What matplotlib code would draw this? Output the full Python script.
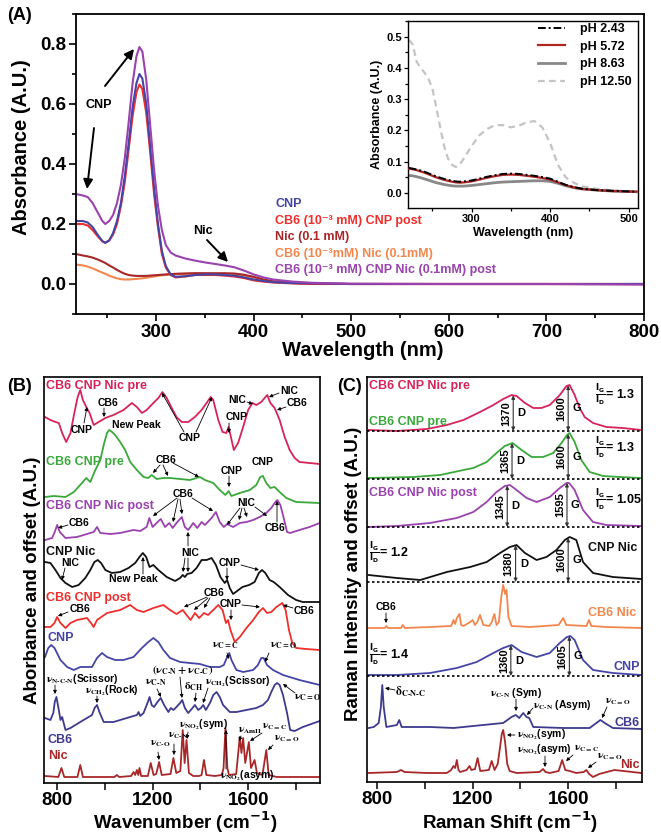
import numpy as np
import matplotlib
matplotlib.use('Agg')
import matplotlib.pyplot as plt
from matplotlib.patches import FancyArrowPatch
from matplotlib.ticker import MultipleLocator, FixedLocator, NullLocator

plt.rcParams['font.family'] = ['Liberation Sans', 'DejaVu Sans']
plt.rcParams['font.weight'] = 'bold'
plt.rcParams['axes.labelweight'] = 'bold'
plt.rcParams['mathtext.default'] = 'bf'

# ---------------- DATA ----------------
# Panel A: UV-vis absorbance
wl_A = [218, 225, 230, 235, 240, 245, 248, 252, 256, 260, 264, 268, 272, 276, 280, 283, 286, 290, 294, 298,
        302, 306, 310, 315, 320, 330, 340, 350, 360, 370, 380, 390, 400, 410, 420, 440, 460, 500, 600, 700, 800]
abs_cnp = [.21, .21, .205, .19, .165, .143, .137, .145, .17, .21, .27, .36, .47, .59, .67, .70, .685, .60, .46, .32,
           .20, .11, .06, .032, .024, .026, .03, .032, .032, .03, .028, .022, .015, .01, .006, .003, .002, 0, 0, 0, 0]
abs_cb6_cnp = [.20, .20, .195, .18, .16, .142, .138, .145, .165, .20, .26, .34, .45, .56, .64, .665, .65, .57, .44, .30,
               .19, .10, .055, .03, .022, .025, .03, .03, .03, .028, .025, .02, .012, .008, .005, .002, 0, 0, 0, 0, 0]
abs_nic = [.10, .095, .092, .088, .082, .075, .07, .062, .055, .047, .04, .034, .03, .028, .027, .027, .027, .027, .028, .029,
           .03, .031, .032, .033, .034, .035, .036, .036, .036, .036, .035, .031, .024, .015, .009, .004, .002, 0, 0, 0, 0]
abs_cb6_nic = [.065, .062, .058, .052, .045, .038, .034, .028, .023, .019, .016, .015, .015, .016, .017, .018, .019, .021, .023, .025,
               .027, .029, .03, .032, .033, .034, .035, .034, .033, .032, .031, .028, .022, .014, .008, .003, .001, 0, 0, 0, 0]
abs_cb6_cnp_nic = [.30, .295, .29, .27, .24, .21, .20, .21, .23, .27, .33, .42, .54, .67, .76, .79, .775, .68, .53, .38,
                   .26, .18, .13, .105, .095, .085, .078, .072, .067, .062, .056, .045, .032, .022, .015, .008, .004, .001, 0, 0, -0.002]
labels_A = ['CNP', 'CB6 (10\u207b\u00b3 mM) CNP post', 'Nic (0.1 mM)', 'CB6 (10\u207b\u00b3mM) Nic (0.1mM)',
            'CB6 (10\u207b\u00b3 mM) CNP Nic (0.1mM) post']

# Inset: pH series
wl_in = [220, 225, 230, 235, 240, 245, 250, 255, 260, 265, 270, 275, 280, 285, 290, 300, 310, 320, 330, 340,
         350, 360, 370, 380, 390, 400, 410, 420, 430, 440, 460, 480, 510]
ph_243 = [.08, .078, .075, .072, .068, .063, .058, .053, .049, .045, .042, .039, .037, .036, .037, .04, .046, .052, .057, .061,
          .062, .061, .058, .055, .051, .046, .036, .026, .019, .014, .009, .007, .004]
ph_572 = [.078, .076, .073, .069, .065, .06, .055, .05, .046, .042, .039, .036, .034, .033, .034, .037, .043, .049, .054, .058,
          .059, .058, .055, .052, .048, .043, .034, .025, .018, .013, .009, .006, .004]
ph_863 = [.056, .055, .052, .049, .045, .041, .037, .033, .03, .027, .025, .023, .022, .022, .022, .024, .027, .03, .033, .035,
          .036, .037, .038, .039, .039, .037, .031, .023, .017, .013, .009, .006, .004]
ph_1250 = [.49, .475, .42, .40, .385, .365, .335, .275, .21, .15, .11, .09, .083, .092, .11, .15, .185, .205, .217, .217,
           .21, .215, .226, .23, .21, .16, .09, .05, .033, .022, .013, .008, .004]
labels_ph = ['pH 2.43', 'pH 5.72', 'pH 8.63', 'pH 12.50']

# Panel B: FTIR (absorbance + offset, A.U.)
b_pre_wn = [749, 772, 793, 807, 821, 838, 856, 872, 886, 897, 908, 922, 936, 953, 974, 1002, 1036, 1078, 1113, 1134,
            1155, 1175, 1203, 1224, 1241, 1259, 1280, 1300, 1322, 1349, 1377, 1405, 1426, 1443, 1454, 1475, 1493, 1509, 1518, 1526,
            1540, 1558, 1579, 1600, 1618, 1634, 1655, 1669, 1680, 1693, 1711, 1732, 1753, 1774, 1795, 1815, 1857, 1900]
b_pre_y = [366, 363, 361, 360, 350, 341, 350, 370, 386, 393, 383, 376, 370, 358, 361, 365, 368, 373, 380, 376,
           370, 373, 380, 385, 391, 385, 375, 366, 361, 361, 366, 373, 380, 386, 383, 363, 351, 350, 356, 348,
           333, 340, 356, 373, 380, 378, 381, 385, 388, 380, 375, 363, 346, 333, 325, 321, 320, 319]
b_cb6cnppre_wn = [749, 786, 835, 870, 904, 922, 939, 960, 981, 997, 1009, 1018, 1030, 1043, 1064, 1085, 1106, 1134, 1162, 1182,
                  1196, 1217, 1245, 1273, 1315, 1356, 1384, 1398, 1419, 1454, 1481, 1505, 1518, 1530, 1565, 1607, 1634, 1651, 1662, 1676,
                  1693, 1711, 1732, 1760, 1801, 1900]
b_cb6cnppre_y = [286, 287, 286, 291, 300, 305, 301, 313, 323, 340, 350, 353, 351, 348, 341, 333, 321, 313, 306, 305,
                 308, 304, 305, 305, 304, 303, 305, 306, 303, 300, 293, 288, 292, 287, 290, 293, 298, 306, 307, 300,
                 295, 296, 291, 285, 281, 280]
b_post_wn = [749, 779, 790, 800, 811, 835, 883, 925, 953, 967, 981, 1023, 1064, 1120, 1148, 1175, 1186, 1200, 1217, 1234,
             1252, 1270, 1284, 1300, 1322, 1335, 1349, 1370, 1387, 1405, 1419, 1447, 1465, 1481, 1498, 1512, 1537, 1565, 1593, 1621,
             1648, 1676, 1697, 1711, 1722, 1735, 1749, 1763, 1776, 1815, 1857, 1900]
b_post_y = [243, 245, 251, 258, 251, 245, 246, 249, 251, 256, 250, 249, 250, 253, 252, 256, 265, 256, 260, 264,
            256, 260, 255, 260, 266, 256, 253, 260, 255, 261, 258, 265, 271, 261, 256, 259, 256, 260, 261, 263,
            266, 270, 275, 280, 283, 278, 265, 251, 250, 253, 256, 260]
b_cnpnic_wn = [749, 772, 793, 814, 835, 863, 890, 918, 939, 956, 970, 984, 1002, 1029, 1064, 1099, 1127, 1145, 1159, 1173,
               1187, 1203, 1224, 1259, 1294, 1315, 1326, 1335, 1345, 1363, 1384, 1405, 1426, 1447, 1465, 1484, 1502, 1512, 1523, 1537,
               1554, 1576, 1604, 1627, 1645, 1658, 1672, 1690, 1707, 1732, 1767, 1801, 1829, 1900]
b_cnpnic_y = [221, 220, 213, 205, 200, 196, 198, 205, 213, 221, 223, 220, 213, 210, 211, 215, 220, 226, 230, 226,
              216, 218, 213, 206, 202, 205, 208, 206, 209, 210, 215, 223, 223, 225, 218, 206, 200, 203, 195, 189,
              192, 196, 198, 201, 210, 213, 210, 203, 201, 196, 188, 183, 181, 181]
b_cb6cnp_wn = [749, 772, 789, 800, 814, 835, 856, 883, 925, 942, 953, 967, 1009, 1064, 1106, 1134, 1162, 1203, 1245, 1273,
               1300, 1326, 1342, 1359, 1377, 1395, 1415, 1432, 1454, 1475, 1493, 1507, 1516, 1526, 1544, 1565, 1593, 1621, 1645, 1662,
               1679, 1697, 1718, 1743, 1757, 1771, 1785, 1801, 1843, 1900]
b_cb6cnp_y = [156, 156, 160, 166, 160, 155, 160, 163, 165, 160, 156, 163, 170, 173, 178, 173, 171, 175, 178, 173,
              169, 173, 168, 163, 170, 165, 170, 168, 173, 178, 173, 160, 163, 153, 141, 146, 155, 163, 171, 175,
              170, 171, 176, 180, 173, 153, 140, 135, 134, 133]
b_cnp_wn = [749, 763, 775, 789, 814, 842, 870, 897, 925, 946, 967, 988, 1009, 1043, 1078, 1120, 1155, 1182, 1203, 1224,
            1245, 1273, 1315, 1356, 1398, 1440, 1481, 1498, 1512, 1521, 1530, 1551, 1579, 1621, 1641, 1655, 1665, 1679, 1704, 1746,
            1815, 1900]
b_cnp_y = [126, 135, 138, 135, 123, 116, 113, 116, 116, 116, 125, 130, 126, 123, 123, 126, 135, 141, 145, 141,
           133, 125, 121, 120, 119, 116, 116, 118, 126, 130, 123, 113, 111, 113, 118, 125, 125, 118, 113, 108,
           103, 98]
b_cb6_wn = [749, 772, 784, 790, 797, 807, 814, 821, 835, 856, 890, 925, 946, 957, 967, 977, 995, 1036, 1092, 1134,
            1141, 1148, 1162, 1180, 1187, 1196, 1206, 1220, 1234, 1248, 1266, 1276, 1287, 1300, 1315, 1324, 1335, 1349, 1367, 1377,
            1391, 1402, 1412, 1423, 1440, 1454, 1468, 1481, 1495, 1523, 1551, 1593, 1634, 1662, 1683, 1697, 1711, 1721, 1732, 1746,
            1763, 1776, 1795, 1829, 1900]
b_cb6_y = [65, 63, 70, 81, 86, 73, 63, 66, 53, 55, 60, 65, 68, 75, 78, 71, 61, 61, 65, 68,
           71, 67, 70, 81, 86, 78, 76, 81, 85, 78, 71, 75, 73, 76, 80, 83, 75, 70, 75, 78,
           73, 75, 78, 73, 80, 88, 91, 86, 78, 71, 71, 73, 75, 78, 83, 91, 98, 100, 98, 88,
           70, 53, 52, 56, 62]
b_nic_wn = [749, 805, 818, 830, 885, 897, 908, 1040, 1050, 1060, 1110, 1120, 1127, 1134, 1140, 1145, 1152, 1180, 1192, 1204,
            1215, 1227, 1238, 1275, 1287, 1299, 1316, 1326, 1334, 1342, 1352, 1370, 1395, 1405, 1415, 1425, 1460, 1490, 1497, 1505,
            1513, 1520, 1550, 1565, 1572, 1579, 1588, 1603, 1612, 1627, 1637, 1660, 1676, 1686, 1720, 1800, 1900]
b_nic_y = [7, 6, 15, 6, 6, 18, 6, 6, 8, 6, 7, 11, 8, 13, 8, 15, 7, 7, 20, 8,
           9, 21, 8, 9, 25, 10, 12, 53, 20, 43, 10, 7, 7, 8, 23, 8, 7, 8, 15, 55,
           15, 8, 9, 46, 30, 45, 20, 41, 15, 23, 10, 8, 33, 8, 6, 6, 6]
b_names = ['CB6 CNP Nic pre', 'CB6 CNP pre', 'CB6 CNP Nic post', 'CNP Nic', 'CB6 CNP post', 'CNP', 'CB6', 'Nic']

# Panel C: Raman (intensity + offset, A.U.)
c_pre_wn = [765, 883, 1009, 1092, 1162, 1231, 1287, 1328, 1363, 1384, 1419, 1454, 1488, 1523, 1565, 1593, 1606, 1627, 1648, 1669,
            1704, 1760, 1829, 1906]
c_pre_y = [352, 351, 353, 357, 362, 370, 377, 383, 387, 386, 379, 374, 374, 377, 387, 396, 397, 387, 374, 365,
           359, 355, 354, 352]
c_cb6cnppre_wn = [765, 953, 1064, 1162, 1203, 1259, 1300, 1335, 1367, 1405, 1447, 1495, 1537, 1572, 1595, 1606, 1627, 1655, 1690, 1746,
                  1815, 1906]
c_cb6cnppre_y = [304, 305, 307, 312, 314, 320, 329, 336, 339, 332, 325, 325, 329, 339, 347, 349, 340, 322, 310, 306,
                 305, 304]
c_post_wn = [765, 883, 1022, 1134, 1203, 1259, 1300, 1335, 1356, 1384, 1426, 1468, 1523, 1565, 1593, 1604, 1627, 1662, 1704, 1760, 1906]
c_post_y = [255, 256, 259, 264, 270, 280, 290, 296, 297, 292, 284, 280, 285, 294, 299, 299, 292, 272, 260, 257, 256]
c_cnpnic_wn = [765, 883, 981, 1092, 1190, 1259, 1315, 1356, 1384, 1419, 1468, 1509, 1551, 1586, 1606, 1634, 1662, 1704, 1787, 1906]
c_cnpnic_y = [207, 204, 202, 210, 215, 220, 229, 235, 237, 229, 222, 225, 232, 242, 245, 242, 220, 209, 205, 203]
c_cb6nic_wn = [765, 832, 839, 846, 900, 908, 916, 1022, 1110, 1120, 1127, 1134, 1145, 1152, 1162, 1190, 1200, 1210, 1220, 1231,
               1245, 1270, 1280, 1291, 1300, 1310, 1320, 1328, 1336, 1342, 1350, 1363, 1440, 1560, 1579, 1592, 1676, 1687, 1697, 1760,
               1906]
c_cb6nic_y = [154, 154, 156, 154, 154, 157, 154, 155, 156, 162, 158, 164, 168, 157, 156, 160, 162, 157, 160, 167,
              157, 156, 160, 168, 157, 160, 185, 197, 188, 192, 165, 156, 155, 157, 164, 157, 156, 162, 156, 155,
              154]
c_cnp_wn = [765, 883, 1022, 1134, 1217, 1287, 1328, 1363, 1405, 1468, 1523, 1565, 1595, 1609, 1627, 1662, 1704, 1787, 1906]
c_cnp_y = [107, 107, 109, 114, 120, 129, 134, 137, 130, 125, 129, 139, 145, 146, 142, 122, 112, 109, 107]
c_cb6_wn = [765, 786, 807, 816, 822, 828, 839, 883, 893, 903, 1022, 1120, 1203, 1328, 1363, 1381, 1395, 1412, 1426, 1437,
            1454, 1579, 1690, 1718, 1735, 1753, 1787, 1906]
c_cb6_y = [54, 55, 59, 75, 97, 75, 55, 57, 62, 55, 55, 54, 56, 59, 65, 67, 64, 69, 65, 64,
           55, 54, 54, 59, 62, 59, 54, 53]
c_nic_wn = [765, 883, 900, 915, 1009, 1092, 1110, 1120, 1127, 1134, 1141, 1148, 1175, 1187, 1195, 1210, 1221, 1232, 1268, 1280,
            1292, 1305, 1315, 1322, 1328, 1336, 1345, 1355, 1384, 1480, 1495, 1505, 1523, 1560, 1575, 1588, 1606, 1634, 1665, 1676,
            1688, 1704, 1730, 1794, 1906]
c_nic_y = [9, 10, 12, 10, 9, 9, 12, 16, 14, 22, 12, 10, 12, 16, 12, 13, 24, 11, 12, 21,
           12, 18, 35, 48, 52, 40, 18, 11, 9, 10, 13, 10, 9, 11, 22, 12, 11, 9, 10, 12,
           8, 5, 8, 12, 9]
c_baselines = [351, 303, 255, 200, 106]
c_D_pos = [1370, 1365, 1345, 1380, 1360]
c_G_pos = [1600, 1600, 1595, 1600, 1605]
c_ratio = ['1.3', '1.3', '1.05', '1.2', '1.4']

# ---------------- STYLE ----------------
col_crimson = '#d6245a'
col_green = '#3aa83a'
col_purple = '#9a42ae'
col_black = '#111111'
col_red = '#ee2f2c'
col_blue = '#4545a6'
col_navy = '#3e3a8e'
col_darkred = '#a8282a'
col_orange = '#f2874e'

W, H = 661, 840
fig = plt.figure(figsize=(W / 100, H / 100), dpi=100)


def F(x, y):
    return (x / W, 1 - y / H)


def ax_at(l, t, r, b):
    return fig.add_axes([l / W, 1 - b / H, (r - l) / W, (b - t) / H])


def T(x, y, s, size=7.5, color='k', ha='center', va='center', **kw):
    fig.text(x / W, 1 - y / H, s, fontsize=size, color=color, ha=ha, va=va, fontweight='bold', **kw)


def ARR(x0, y0, x1, y1, lw=0.6, ms=5, color='k'):
    fig.add_artist(FancyArrowPatch(F(x0, y0), F(x1, y1), transform=fig.transFigure, arrowstyle='-|>',
                                   mutation_scale=ms, lw=lw, color=color, shrinkA=0, shrinkB=0))


def NU(x, y, s, size=8, ha='left', va='center'):
    fig.text(x / W, 1 - y / H, s, fontsize=size, color='k', ha=ha, va=va, fontweight='bold', math_fontfamily='stix')


# ---------------- PANEL A ----------------
axA = ax_at(76, 14, 644, 314)
cols_A = [col_blue, col_red, col_darkred, col_orange, col_purple]
order = [3, 2, 1, 0, 4]
series_A = [abs_cnp, abs_cb6_cnp, abs_nic, abs_cb6_nic, abs_cb6_cnp_nic]
for i in order:
    axA.plot(wl_A, series_A[i], color=cols_A[i], lw=1.5)
axA.set_xlim(218, 800)
axA.set_ylim(-0.1, 0.9)
axA.xaxis.set_major_locator(MultipleLocator(100))
axA.xaxis.set_minor_locator(MultipleLocator(50))
axA.yaxis.set_major_locator(MultipleLocator(0.2))
axA.yaxis.set_minor_locator(MultipleLocator(0.1))
axA.tick_params(which='both', direction='out', width=1.2, labelsize=13.5, pad=2)
axA.tick_params(which='major', length=5)
axA.tick_params(which='minor', length=3)
for s in axA.spines.values():
    s.set_linewidth(1.3)
T(22, 147, 'Absorbance (A.U.)', size=14.5, rotation=90)
T(363, 350, 'Wavelength (nm)', size=14.5)
T(20, 15, '(A)', size=13)
for i, lab in enumerate(labels_A):
    T(275, 204 + i * 16.6, lab, size=9, color=cols_A[i], ha='left')
T(99, 105, 'CNP', size=9)
T(203, 231, 'Nic', size=9)
ARR(94, 128, 87, 189, lw=1.4, ms=14)
ARR(105, 86, 134, 49, lw=1.4, ms=14)
ARR(207, 240, 228, 262, lw=1.4, ms=14)

# Inset
axI = ax_at(408, 21, 638, 208)
axI.plot(wl_in, ph_243, color='k', lw=1.4, ls=(0, (4, 1.5, 1, 1.5)), label=labels_ph[0], zorder=4)
axI.plot(wl_in, ph_572, color='#b02424', lw=1.6, label=labels_ph[1], zorder=3)
axI.plot(wl_in, ph_863, color='#888888', lw=2.0, label=labels_ph[2], zorder=2)
axI.plot(wl_in, ph_1250, color='#c4c4c4', lw=1.6, ls=(0, (3, 2)), label=labels_ph[3], zorder=1)
axI.set_xlim(219, 512)
axI.set_ylim(-0.048, 0.55)
axI.xaxis.set_major_locator(MultipleLocator(100))
axI.xaxis.set_minor_locator(MultipleLocator(50))
axI.yaxis.set_major_locator(MultipleLocator(0.1))
axI.yaxis.set_minor_locator(MultipleLocator(0.05))
axI.tick_params(which='both', direction='out', width=0.9, labelsize=8, pad=1.5)
axI.tick_params(which='major', length=3)
axI.tick_params(which='minor', length=2)
for s in axI.spines.values():
    s.set_linewidth(1.0)
axI.set_ylabel('Absorbance (A.U.)', fontsize=9, labelpad=2)
axI.set_xlabel('Wavelength (nm)', fontsize=9, labelpad=2)
leg = axI.legend(loc='upper right', bbox_to_anchor=(632 / W, 1 - 23 / H), bbox_transform=fig.transFigure,
                 frameon=False, fontsize=9, handlelength=2.2, handletextpad=1.2, labelspacing=0.45,
                 borderaxespad=0, borderpad=0)
for t in leg.get_texts():
    t.set_fontweight('bold')

# ---------------- PANEL B ----------------
axB = ax_at(44, 377, 320, 783)
curves_B = [(b_pre_wn, b_pre_y, col_crimson), (b_cb6cnppre_wn, b_cb6cnppre_y, col_green),
            (b_post_wn, b_post_y, col_purple), (b_cnpnic_wn, b_cnpnic_y, col_black),
            (b_cb6cnp_wn, b_cb6cnp_y, col_red), (b_cnp_wn, b_cnp_y, col_blue),
            (b_cb6_wn, b_cb6_y, col_navy), (b_nic_wn, b_nic_y, col_darkred)]
for wn, yy, c in curves_B:
    axB.plot(wn, yy, color=c, lw=1.3)
axB.set_xlim(745, 1901)
axB.set_ylim(0, 406)
axB.xaxis.set_major_locator(FixedLocator([800, 1200, 1600]))
axB.xaxis.set_minor_locator(FixedLocator([1000, 1400, 1800]))
axB.yaxis.set_major_locator(NullLocator())
axB.tick_params(which='both', direction='out', width=1.1, labelsize=13.5, pad=1.5)
axB.tick_params(which='major', length=5)
axB.tick_params(which='minor', length=5)
for s in axB.spines.values():
    s.set_linewidth(1.2)
T(19, 387, '(B)', size=13)
T(33, 580, 'Aborbance and offset (A.U.)', size=13.5, rotation=90)
T(185, 822, 'Wavenumber (cm$^{-1}$)', size=13.5)
b_label_pos = [(46, 386), (46, 462), (46, 506), (46, 552), (46, 598), (48, 638), (47, 740), (48, 756)]
for (x, y), name, (_, _, c) in zip(b_label_pos, b_names, curves_B):
    T(x, y, name, size=9, color=c, ha='left')

# annotations, panel B
T(82, 430, 'CNP'); ARR(84, 423, 87, 407)
T(108, 403, 'CB6'); ARR(104, 408, 104, 417)
T(136, 425, 'New Peak')
T(190, 438, 'CNP'); ARR(184, 432, 162, 393); ARR(196, 432, 212, 397)
T(237, 417, 'CNP'); ARR(229, 423, 229, 433)
T(237, 400, 'NIC'); ARR(247, 402, 253, 404)
T(289, 391, 'NIC'); ARR(279, 393, 269, 397)
T(297, 403, 'CB6'); ARR(286, 407, 277, 410)
T(166, 460, 'CB6'); ARR(160, 465, 153, 473); ARR(163, 465, 168, 476); ARR(173, 463, 199, 477)
T(232, 471, 'CNP'); ARR(229, 476, 229, 487)
T(263, 462, 'CNP')
T(183, 494, 'CB6'); ARR(177, 498, 153, 516); ARR(178, 499, 173, 522); ARR(180, 499, 182, 514); ARR(192, 498, 213, 511)
T(246, 503, 'NIC'); ARR(240, 508, 227, 525); ARR(242, 508, 239, 520); ARR(244, 508, 247, 517); ARR(255, 507, 267, 516)
T(79, 523, 'CB6'); ARR(68, 525, 58, 528)
T(275, 528, 'CB6'); ARR(277, 522, 277, 501)
T(70, 563, 'NIC'); ARR(65, 568, 62, 580)
T(190, 553, 'NIC'); ARR(185, 558, 183, 572); ARR(188, 558, 188, 572); ARR(188, 546, 188, 532)
T(133, 579, 'New Peak'); ARR(143, 574, 143, 557)
T(230, 563, 'CNP'); ARR(227, 568, 227, 580); ARR(241, 565, 259, 570)
T(214, 593, 'CB6'); ARR(207, 597, 184, 607); ARR(208, 598, 194, 610); ARR(210, 598, 204, 608)
T(231, 604, 'CNP'); ARR(231, 610, 231, 620); ARR(242, 605, 260, 607)
T(80, 609, 'CB6'); ARR(68, 612, 58, 616)
T(304, 611, 'CB6'); ARR(293, 608, 283, 605)
NU(212, 646, r'$\mathrm{\nu_{C=C}}$'); ARR(227, 653, 229, 659)
NU(270, 646, r'$\mathrm{\nu_{C=O}}$'); ARR(269, 653, 265, 662)
NU(46, 679, r'$\mathrm{\nu_{N\text{-}C\text{-}N}}$(Scissor)', size=7.5); ARR(55, 685, 55, 694)
NU(85, 691, r'$\mathrm{\nu_{CH_2}}$(Rock)', size=7.5); ARR(97, 696, 97, 703)
NU(152, 670, r'$\mathrm{(\nu_{C\text{-}N}+\nu_{C\text{-}C})}$', size=8); ARR(180, 677, 182, 698)
NU(145, 683, r'$\mathrm{\nu_{C\text{-}N}}$', size=8); ARR(157, 689, 161, 697)
NU(194, 687, r'$\mathrm{\delta_{CH}}$', size=8, ha='center'); ARR(196, 693, 195, 702)
NU(205, 682, r'$\mathrm{\nu_{CH_2}}$(Scissor)', size=7.5); ARR(208, 688, 203, 703)
NU(294, 698, r'$\mathrm{\nu_{C=O}}$'); ARR(295, 693, 283, 684)
NU(150, 744, r'$\mathrm{\nu_{C\text{-}O}}$', size=7.5); ARR(158, 752, 159, 760)
NU(168, 736, r'$\mathrm{\nu_{C\text{-}N}}$', size=7.5); ARR(174, 744, 174, 755)
NU(179, 725, r'$\mathrm{\nu_{NO_2}}$(sym)', size=7.5); ARR(188, 732, 187, 739)
NU(220, 776, r'$\mathrm{\nu_{NO_2}}$(asym)', size=7.5); ARR(226, 769, 226, 730)
NU(238, 731, r'$\mathrm{\nu_{AmII}}$', size=7.5); ARR(241, 736, 239, 741)
NU(262, 727, r'$\mathrm{\nu_{C=C}}$', size=7.5); ARR(262, 733, 250, 741)
NU(274, 739, r'$\mathrm{\nu_{C=O}}$', size=7.5); ARR(273, 745, 268, 750)

# ---------------- PANEL C ----------------
axC = ax_at(367, 377, 642, 782)
curves_C = [(c_pre_wn, c_pre_y, col_crimson), (c_cb6cnppre_wn, c_cb6cnppre_y, col_green),
            (c_post_wn, c_post_y, col_purple), (c_cnpnic_wn, c_cnpnic_y, col_black),
            (c_cb6nic_wn, c_cb6nic_y, col_orange), (c_cnp_wn, c_cnp_y, col_blue),
            (c_cb6_wn, c_cb6_y, col_navy), (c_nic_wn, c_nic_y, col_darkred)]
for wn, yy, c in curves_C:
    axC.plot(wn, yy, color=c, lw=1.3)
for b in c_baselines:
    axC.axhline(b, color='k', lw=1.2, ls=(0, (1.5, 1.5)))
axC.set_xlim(758, 1909)
axC.set_ylim(0, 405)
axC.xaxis.set_major_locator(FixedLocator([800, 1200, 1600]))
axC.xaxis.set_minor_locator(FixedLocator([1000, 1400, 1800]))
axC.yaxis.set_major_locator(NullLocator())
axC.tick_params(which='both', direction='out', width=1.1, labelsize=13.5, pad=1.5)
axC.tick_params(which='major', length=5)
axC.tick_params(which='minor', length=5)
for s in axC.spines.values():
    s.set_linewidth(1.2)
T(350, 387, '(C)', size=13)
T(353, 574, 'Raman Intensity and offset (A.U.)', size=13.5, rotation=90)
T(510, 822, 'Raman Shift (cm$^{-1}$)', size=13.5)

c_names = ['CB6 CNP Nic pre', 'CB6 CNP pre', 'CB6 CNP Nic post', 'CNP Nic', 'CB6 Nic', 'CNP', 'CB6', 'Nic']
c_label_pos = [(369, 386, 'left'), (369, 422, 'left'), (369, 493, 'left'), (637, 548, 'right'),
               (636, 613, 'right'), (640, 667, 'right'), (640, 723, 'right'), (640, 765, 'right')]
for (x, y, ha), name, (_, _, c) in zip(c_label_pos, c_names, curves_C):
    T(x, y, name, size=9, color=c, ha=ha)

# D / G arrows
dg_curves = [0, 1, 2, 3, 5]
for k, ci in enumerate(dg_curves):
    wn, yy, _ = curves_C[ci]
    base = c_baselines[k]
    for pos, letter in ((c_D_pos[k], 'D'), (c_G_pos[k], 'G')):
        top = float(np.interp(pos, wn, yy))
        axC.annotate('', xy=(pos, top), xytext=(pos, base),
                     arrowprops=dict(arrowstyle='<|-|>', color='#333333', lw=0.8, mutation_scale=5,
                                     shrinkA=0, shrinkB=0))
        mid = (top + base) / 2
        axC.annotate(str(pos), xy=(pos, mid), xytext=(-5, 0), textcoords='offset points', rotation=90,
                     ha='center', va='center', fontsize=8, fontweight='bold')
        axC.annotate(letter, xy=(pos, mid), xytext=(6, 0), textcoords='offset points',
                     ha='center', va='center', fontsize=8, fontweight='bold')

ratio_pos = [(595, 395), (595, 448), (595, 500), (369, 553), (369, 655)]
for (x, y), r in zip(ratio_pos, c_ratio):
    T(x, y, r'$\frac{I_G}{I_D}$= ' + r, size=9, ha='left')

fig.text(386 / W, 1 - 607 / H, 'CB6', fontsize=7.5, ha='center', va='center')
ARR(386, 613, 386, 623)
NU(395, 692, r'$\mathrm{\delta_{C\text{-}N\text{-}C}}$', size=8.5); ARR(395, 690, 385, 688)
NU(490, 693, r'$\mathrm{\nu_{C\text{-}N}}$ (Sym)', size=7.5); ARR(516, 699, 516, 711)
NU(533, 705, r'$\mathrm{\nu_{C\text{-}N}}$ (Asym)', size=7.5); ARR(533, 708, 527, 715)
NU(605, 702, r'$\mathrm{\nu_{C=O}}$', size=7.5); ARR(607, 707, 602, 718)
NU(517, 735, r'$\mathrm{\nu_{NO_2}}$(sym)', size=7.5); ARR(515, 735, 507, 735)
NU(517, 750, r'$\mathrm{\nu_{NO_2}}$(asym)', size=7.5); ARR(545, 756, 545, 767)
NU(574, 749, r'$\mathrm{\nu_{C=C}}$', size=7.5); ARR(573, 755, 566, 761)
NU(597, 757, r'$\mathrm{\nu_{C=O}}$', size=7.5); ARR(596, 762, 588, 768)

fig.savefig('out.png', dpi=100)
